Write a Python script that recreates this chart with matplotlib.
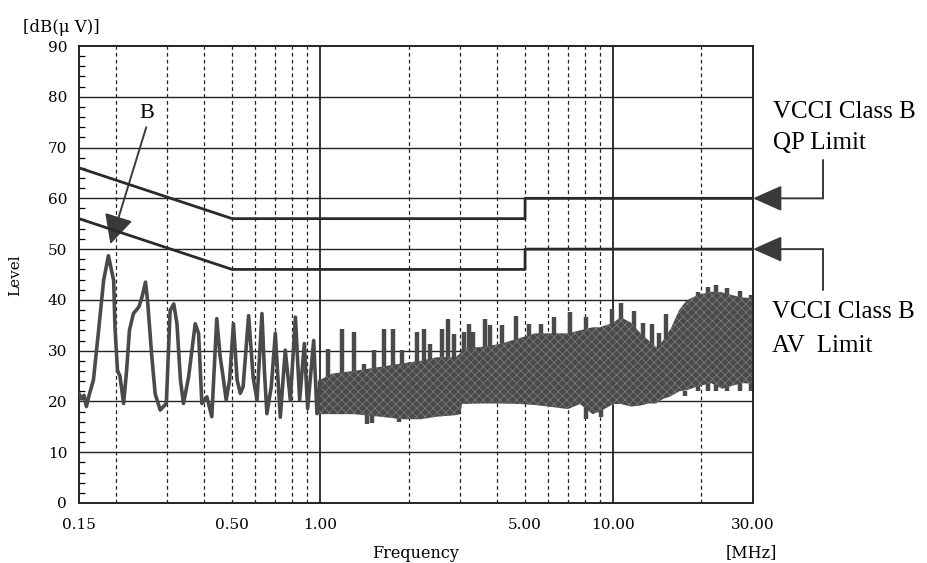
import matplotlib
matplotlib.use("Agg")
import matplotlib.pyplot as plt
from matplotlib.ticker import FixedLocator, NullLocator

# --- data -----------------------------------------------------------------
# low-frequency part of the scan (single trace, distinct peaks)
LOW_FREQ = [0.150, 0.153, 0.156, 0.159, 0.162, 0.168, 0.175, 0.182, 0.189, 0.197,
            0.199, 0.203, 0.207, 0.213, 0.218, 0.223, 0.230, 0.240, 0.246, 0.253,
            0.257, 0.266, 0.273, 0.284, 0.298, 0.307, 0.316, 0.324, 0.333, 0.341,
            0.355, 0.374, 0.384, 0.394, 0.410, 0.426, 0.443, 0.455, 0.464, 0.477,
            0.490, 0.505, 0.520, 0.533, 0.545, 0.569, 0.590, 0.608, 0.632, 0.645,
            0.657, 0.680, 0.702, 0.715, 0.730, 0.759, 0.790, 0.822, 0.850, 0.882,
            0.905, 0.949, 0.974, 1.00]
LOW_LEVEL = [21.5, 20.5, 21.2, 19.0, 21.0, 24.2, 34.0, 43.8, 48.7, 43.8,
             34.6, 26.1, 25.0, 19.6, 26.0, 34.0, 37.3, 38.6, 40.5, 43.5,
             40.0, 28.7, 21.5, 18.3, 19.6, 37.9, 39.2, 35.3, 24.2, 19.6,
             24.8, 35.3, 33.4, 19.6, 20.9, 17.0, 36.3, 28.8, 25.5, 20.3,
             24.2, 35.3, 24.2, 21.6, 22.9, 36.9, 24.6, 20.3, 37.3, 25.5,
             17.6, 22.9, 33.4, 25.5, 16.9, 30.1, 20.3, 36.6, 20.3, 31.4,
             18.6, 32.0, 17.6, 24.0]

# dense part of the scan: lower / upper edge of the band
BAND_FREQ = [0.98, 1.1, 1.3, 1.6, 1.9, 2.2, 2.5, 2.9, 3.0, 3.05,
             3.5, 4.1, 4.8, 5.4, 6.0, 7.0, 7.7, 8.5, 9.0, 10.0,
             10.6, 11.5, 12.4, 13.2, 14.0, 14.8, 15.7, 16.8, 17.8, 19.5,
             21.6, 23.5, 25.2, 27.5, 30.0]
BAND_LOW = [17.5, 17.5, 17.5, 17.0, 16.5, 16.5, 17.0, 17.3, 17.5, 19.5,
            19.6, 19.6, 19.5, 19.3, 19.0, 18.5, 19.5, 17.5, 18.0, 19.5,
            19.5, 19.0, 19.2, 19.6, 19.6, 20.5, 21.0, 22.0, 22.2, 23.0,
            23.6, 22.5, 23.0, 23.6, 23.5]
BAND_HIGH = [24.0, 25.5, 26.0, 26.8, 27.5, 28.0, 28.7, 28.7, 29.5, 30.5,
             30.7, 31.3, 32.5, 33.4, 33.4, 33.4, 34.0, 34.6, 34.6, 35.5,
             36.6, 35.5, 33.4, 32.0, 30.7, 32.0, 34.3, 38.0, 39.9, 41.0,
             41.6, 41.5, 41.0, 40.5, 40.3]

# peaks sticking out of the band
SPIKE_FREQ = [1.065, 1.186, 1.30, 1.41, 1.53, 1.645, 1.77, 1.90, 2.13, 2.26,
              2.37, 2.60, 2.73, 2.86, 3.09, 3.21, 3.31, 3.66, 3.81, 4.17,
              4.64, 5.16, 5.65, 6.27, 7.14, 8.06, 9.92, 10.6, 11.8, 12.6,
              13.6, 14.3, 15.1, 19.5, 21.0, 22.5, 24.5, 27.0, 29.5]
SPIKE_LEVEL = [30.4, 34.3, 33.7, 27.4, 30.1, 34.3, 34.3, 30.1, 33.7, 34.3,
               31.4, 34.3, 36.3, 33.3, 33.7, 35.3, 33.7, 36.3, 35.0, 35.0,
               36.9, 35.3, 35.3, 36.6, 37.6, 36.6, 38.2, 39.3, 37.9, 35.5,
               35.3, 33.4, 37.3, 41.5, 42.5, 43.0, 42.3, 41.8, 41.0]
DIP_FREQ = [1.44, 1.50, 1.85, 8.06, 9.1, 17.6]
DIP_LEVEL = [15.5, 15.8, 16.0, 16.5, 17.0, 21.0]

# VCCI class B limits
LIMIT_FREQ = [0.15, 0.5, 5.0, 5.0, 30.0]
QP_LIMIT = [66, 56, 56, 60, 60]
AV_LIMIT = [56, 46, 46, 50, 50]

XTICKS = [0.15, 0.5, 1.0, 5.0, 10.0, 30.0]
XTICK_LABELS = ["0.15", "0.50", "1.00", "5.00", "10.00", "30.00"]
DASHED_X = [0.2, 0.3, 0.4, 0.5, 0.6, 0.7, 0.8, 0.9,
            2, 3, 4, 5, 6, 7, 8, 9, 20]
SOLID_X = [1.0, 10.0]

W, H = 928, 563
SERIF = "DejaVu Serif"
TIMES = "Liberation Serif"
TRACE = "#4a4a4a"
plt.rcParams["hatch.linewidth"] = 0.5

fig = plt.figure(figsize=(W / 100, H / 100), dpi=100)
ax = fig.add_axes([79 / W, 60 / H, (753 - 79) / W, (503 - 46) / H])
ax.set_xscale("log")
ax.set_xlim(0.15, 30)
ax.set_ylim(0, 90)

# grid
for y in range(10, 90, 10):
    ax.axhline(y, color="#222222", lw=1.0, zorder=1)
for x in DASHED_X:
    ax.axvline(x, color="#222222", lw=0.9, ls=(0, (3, 2.5)), zorder=1)
for x in SOLID_X:
    ax.axvline(x, color="#222222", lw=1.3, zorder=1)

# emission scan
ax.vlines(SPIKE_FREQ, 22, SPIKE_LEVEL, color=TRACE, lw=3.2, zorder=2)
ax.vlines(DIP_FREQ, DIP_LEVEL, 22, color=TRACE, lw=3.2, zorder=2)
ax.fill_between(BAND_FREQ, BAND_LOW, BAND_HIGH, facecolor=TRACE,
                edgecolor="#808080", hatch="xxxx", lw=0, zorder=2)
ax.plot(LOW_FREQ, LOW_LEVEL, color=TRACE, lw=2.6, zorder=3)

# limits
ax.plot(LIMIT_FREQ, QP_LIMIT, color="#2a2a2a", lw=2.0, zorder=4)
ax.plot(LIMIT_FREQ, AV_LIMIT, color="#2a2a2a", lw=2.0, zorder=4)

# axes styling
ax.xaxis.set_major_locator(FixedLocator(XTICKS))
ax.xaxis.set_minor_locator(NullLocator())
ax.set_xticklabels(XTICK_LABELS, family=SERIF, fontsize=11)
ax.tick_params(axis="x", which="major", length=0, pad=11)
ax.set_yticks(range(0, 91, 10))
ax.set_yticks(range(0, 91, 2), minor=True)
ax.set_yticklabels([str(v) for v in range(0, 91, 10)], family=SERIF, fontsize=11)
ax.tick_params(axis="y", which="major", length=0, pad=8.5)
ax.tick_params(axis="y", which="minor", direction="in", length=4.5, width=0.9)
for sp in ax.spines.values():
    sp.set_linewidth(1.4)
    sp.set_color("#222222")

# axis texts
fig.text(61 / W, 1 - 27 / H, "[dB(\u03bc V)]", family=SERIF, fontsize=12,
         ha="center", va="center")
fig.text(15 / W, 1 - 275 / H, "Level", family=SERIF, fontsize=11,
         rotation=90, ha="center", va="center")
fig.text(416 / W, 1 - 553 / H, "Frequency", family=SERIF, fontsize=11.5,
         ha="center", va="center")
fig.text(751 / W, 1 - 553 / H, "[MHz]", family=SERIF, fontsize=11.5,
         ha="center", va="center")

# "B" marker
ax.annotate("", xy=(0.192, 51.0), xytext=(0.2545, 74.0),
            arrowprops=dict(arrowstyle="-|>,head_length=0.9,head_width=0.45",
                            color="#3a3a3a", lw=1.4, mutation_scale=20,
                            shrinkA=0, shrinkB=0))
ax.text(0.256, 76.8, "B", family=TIMES, fontsize=16, ha="center", va="center")

# limit call-outs on the right
arrow = dict(arrowstyle="-|>,head_length=0.9,head_width=0.4", color="#3a3a3a",
             lw=1.4, mutation_scale=20, shrinkA=0, shrinkB=0)
plain = dict(arrowstyle="-", color="#3a3a3a", lw=1.4, shrinkA=0, shrinkB=0)
for level, y_end in [(60, H - 160), (50, H - 290)]:
    ax.annotate("", xy=(823, level), xycoords=("figure pixels", "data"),
                xytext=(823, y_end), textcoords="figure pixels",
                arrowprops=plain, annotation_clip=False)
    ax.annotate("", xy=(30, level), xycoords="data",
                xytext=(823, level), textcoords=("figure pixels", "data"),
                arrowprops=arrow, annotation_clip=False)

fig.text(773 / W, 1 - 112 / H, "VCCI Class B", family=TIMES, fontsize=18,
         ha="left", va="center")
fig.text(773 / W, 1 - 143 / H, "QP Limit", family=TIMES, fontsize=18,
         ha="left", va="center")
fig.text(772 / W, 1 - 312 / H, "VCCI Class B", family=TIMES, fontsize=18,
         ha="left", va="center")
fig.text(772 / W, 1 - 346 / H, "AV  Limit", family=TIMES, fontsize=18,
         ha="left", va="center")

fig.savefig("out.png", dpi=100)
